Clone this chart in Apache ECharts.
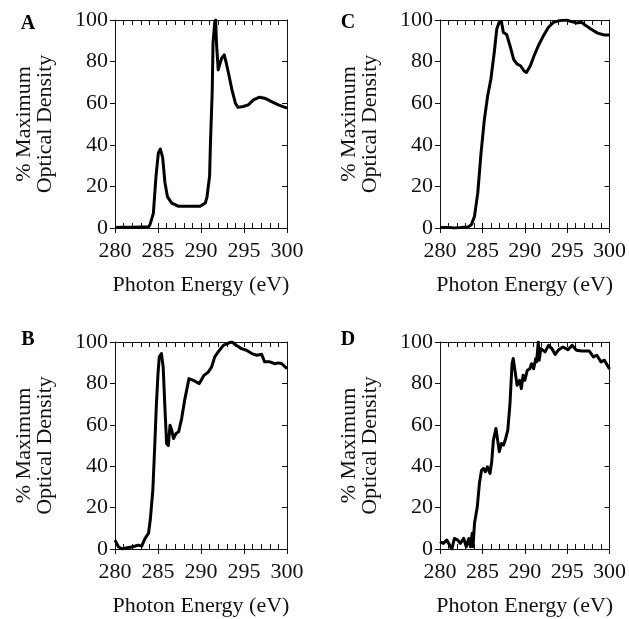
<!DOCTYPE html>
<html lang="en">
<head>
    <meta charset="UTF-8">
    <title>Photon Energy spectra</title>
    <style>
        html, body { margin: 0; padding: 0; background: #fff; }
        #container { width: 629px; height: 619px; }
    </style>
</head>
<body>
<div id="container"></div>
<script type="text/javascript" src="https://cdn.jsdelivr.net/npm/echarts@6/dist/echarts.min.js"></script>
<script type="text/javascript">
    // panel A
    var energyA = [280, 281, 282, 283, 283.9, 284.07, 284.46, 284.77, 285.04, 285.27, 285.54, 285.8, 286.1, 286.6, 287.4, 288.3, 289.9, 290.5, 290.7, 291.0, 291.1, 291.3, 291.4, 291.6, 291.7, 291.8, 292.0, 292.1, 292.4, 292.7, 292.9, 293.2, 293.6, 294.0, 294.3, 294.9, 295.5, 296.1, 296.8, 297.4, 298.2, 299.0, 300];
    var densityA = [0.3, 0.4, 0.4, 0.5, 0.6, 1.6, 7, 25, 36, 38, 34, 22, 15, 12, 10.4, 10.4, 10.5, 12, 15, 25, 41, 65, 89, 99, 100, 89, 76, 77.6, 81.6, 83.2, 80, 74.4, 66.4, 60, 58, 58.4, 59.2, 61.6, 62.9, 62.4, 60.8, 59.2, 57.6];

    // panel C
    var energyC = [280, 281, 281.7, 282.5, 283.3, 283.7, 284.07, 284.46, 284.84, 285.23, 285.62, 286.0, 286.4, 286.7, 286.98, 287.25, 287.48, 287.87, 288.26, 288.7, 289.1, 289.5, 289.9, 290.2, 290.66, 291.1, 291.6, 292.2, 292.8, 293.4, 294.1, 294.9, 295.5, 296.1, 296.7, 297.2, 297.8, 298.6, 299.4, 300];
    var densityC = [0.3, 0.2, 0, 0.2, 0.5, 1.6, 5.6, 17, 36, 52, 63.5, 71.5, 84.4, 95.7, 98.9, 99.2, 94, 93, 87.6, 81, 78.8, 78, 75.6, 74.8, 78, 82.8, 87.6, 92.4, 96.5, 98.9, 99.7, 100, 99.2, 98.6, 98.9, 97.3, 95.7, 93.7, 92.8, 92.8];

    // panel B
    var energyB = [280, 280.4, 280.8, 281.4, 282.1, 282.7, 283.1, 283.5, 283.9, 284.1, 284.4, 284.6, 284.8, 285.0, 285.15, 285.4, 285.6, 285.8, 286.0, 286.2, 286.4, 286.6, 286.8, 287.1, 287.4, 287.75, 288.1, 288.6, 289.1, 289.8, 290.35, 290.85, 291.24, 291.6, 292.0, 292.6, 293.2, 293.6, 294.1, 294.7, 295.3, 295.9, 296.5, 297.05, 297.4, 298.0, 298.6, 299.0, 299.4, 299.6, 300];
    var densityB = [4.3, 1.1, 0, 0.6, 1.1, 1.9, 1.4, 5.1, 7.6, 14, 28.5, 47.7, 68.6, 84.7, 92.8, 94.4, 88, 68.6, 51, 50, 59.8, 57.4, 53.4, 55.8, 56.6, 63, 71.9, 82.3, 81.5, 79.9, 83.9, 85.5, 88, 92.8, 95.2, 98.4, 99.5, 100, 98.4, 96.8, 96, 94.4, 93.6, 94.1, 90.4, 90.4, 89.5, 89.9, 89.5, 89.9, 87.1];

    // panel D
    var energyD = [280, 280.4, 280.8, 281.4, 281.7, 282.1, 282.4, 282.8, 283.1, 283.4, 283.6, 283.8, 283.9, 284.07, 284.4, 284.65, 284.9, 285.15, 285.35, 285.6, 285.9, 286.1, 286.3, 286.6, 286.8, 287.0, 287.25, 287.5, 287.75, 288.0, 288.26, 288.5, 288.64, 288.84, 289.1, 289.4, 289.6, 289.8, 290.0, 290.3, 290.6, 290.8, 291.05, 291.3, 291.4, 291.6, 291.7, 291.9, 292.1, 292.4, 292.8, 293.2, 293.6, 294.0, 294.5, 295.1, 295.6, 296.1, 296.7, 297.25, 297.6, 298.1, 298.5, 299.0, 299.4, 300];
    var densityD = [3.5, 2.7, 4.3, 0, 5.1, 4.3, 2.7, 5.1, 1.1, 5.1, 1.1, 7.6, 1.1, 12.4, 20.4, 31.7, 38.1, 38.9, 37.3, 39.7, 36.5, 42.1, 52.6, 58.2, 52.6, 47, 51, 50.2, 53.4, 57.4, 70.3, 89.5, 92, 86.3, 79.1, 81.5, 77.5, 83.9, 81.5, 86.3, 87.1, 89.5, 87.1, 92, 90.4, 100, 91.2, 96.8, 96, 95.2, 98.4, 96.8, 94, 96.3, 97.6, 96.3, 98.4, 96, 95.7, 95.7, 95.7, 92.8, 93.6, 90.4, 91.2, 87];

    var xTicks = [280, 285, 290, 295, 300];
    var yTicks = [0, 20, 40, 60, 80, 100];
    var panelLetters = ['A', 'C', 'B', 'D'];
    var xTitle = 'Photon Energy (eV)';
    var yTitle = '% Maximum\nOptical Density';

    var panels = [
        {letter: panelLetters[0], x: energyA, y: densityA},
        {letter: panelLetters[1], x: energyC, y: densityC},
        {letter: panelLetters[2], x: energyB, y: densityB},
        {letter: panelLetters[3], x: energyD, y: densityD}
    ];

    var font = 'Liberation Serif, Times New Roman, serif';
    var grids = [
        {left: 115, top: 20, width: 172, height: 208},
        {left: 440, top: 20, width: 172, height: 208},
        {left: 115, top: 342, width: 172, height: 207},
        {left: 440, top: 342, width: 172, height: 207}
    ];
    var letterPos = [[28, 24], [348, 23], [28, 340], [348, 340]];

    var xAxes = [], yAxes = [], series = [], graphics = [];
    var lineStyle = {color: '#111', width: 1};

    panels.forEach(function (p, i) {
        var xMin = xTicks[0], xMax = xTicks[xTicks.length - 1];
        var yMin = yTicks[0], yMax = yTicks[yTicks.length - 1];
        // main bottom axis with labels
        xAxes.push({
            type: 'value', gridIndex: i, position: 'bottom',
            min: xMin, max: xMax, interval: xTicks[1] - xTicks[0],
            axisLine: {show: true, lineStyle: lineStyle},
            axisTick: {show: true, inside: false, length: 5, lineStyle: lineStyle},
            axisLabel: {color: '#111', fontFamily: font, fontSize: 22, margin: 12},
            splitLine: {show: false},
            name: xTitle, nameLocation: 'middle', nameGap: 46,
            nameTextStyle: {color: '#111', fontFamily: font, fontSize: 22}
        });
        // inner 1 eV ticks on bottom
        xAxes.push({
            type: 'value', gridIndex: i, position: 'bottom',
            min: xMin, max: xMax, interval: 1,
            axisLine: {show: false},
            axisTick: {show: true, inside: true, length: 5, lineStyle: lineStyle},
            axisLabel: {show: false}, splitLine: {show: false}
        });
        // top mirror axis
        xAxes.push({
            type: 'value', gridIndex: i, position: 'top',
            min: xMin, max: xMax, interval: 1,
            axisLine: {show: true, lineStyle: lineStyle},
            axisTick: {show: true, inside: true, length: 5, lineStyle: lineStyle},
            axisLabel: {show: false}, splitLine: {show: false}
        });
        // left axis
        yAxes.push({
            type: 'value', gridIndex: i, position: 'left',
            min: yMin, max: yMax, interval: yTicks[1] - yTicks[0],
            axisLine: {show: true, lineStyle: lineStyle},
            axisTick: {show: true, inside: false, length: 5, lineStyle: lineStyle},
            axisLabel: {color: '#111', fontFamily: font, fontSize: 22, margin: 7},
            splitLine: {show: false},
            name: yTitle, nameLocation: 'middle', nameGap: 59,
            nameTextStyle: {color: '#111', fontFamily: font, fontSize: 22, lineHeight: 21}
        });
        // right mirror axis
        yAxes.push({
            type: 'value', gridIndex: i, position: 'right',
            min: yMin, max: yMax, interval: yTicks[1] - yTicks[0],
            axisLine: {show: true, lineStyle: lineStyle},
            axisTick: {show: true, inside: true, length: 5, lineStyle: lineStyle},
            axisLabel: {show: false}, splitLine: {show: false}
        });

        var pts = p.x.map(function (e, k) { return [e, p.y[k]]; });
        series.push({
            type: 'line',
            xAxisIndex: i * 3,
            yAxisIndex: i * 2,
            data: pts,
            showSymbol: false,
            lineStyle: {color: '#000', width: 3, join: 'round'},
            animation: false
        });

        graphics.push({
            type: 'text',
            x: letterPos[i][0], y: letterPos[i][1],
            style: {
                text: p.letter, fill: '#000',
                font: 'bold 20px ' + font,
                textAlign: 'center', textVerticalAlign: 'middle'
            }
        });
    });

    var chart = echarts.init(document.getElementById('container'));
    var option = {
        backgroundColor: '#fff',
        animation: false,
        grid: grids,
        xAxis: xAxes,
        yAxis: yAxes,
        series: series,
        graphic: graphics
    };
    chart.setOption(option);
</script>
</body>
</html>
